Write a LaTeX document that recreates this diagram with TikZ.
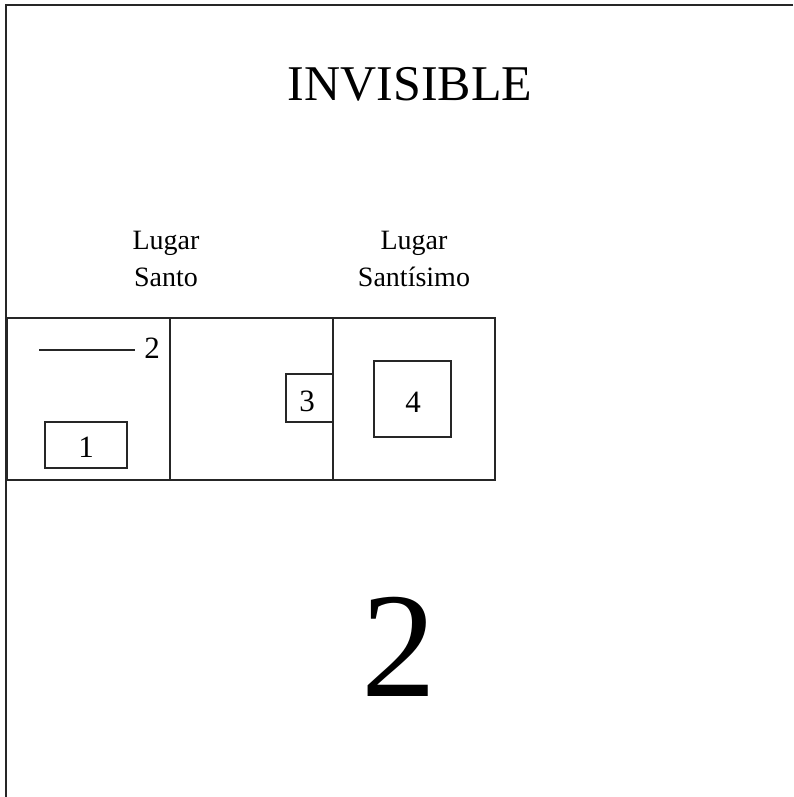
\documentclass[tikz,border=0pt]{standalone}
\usepackage{fontspec}
\setmainfont{Liberation Serif}
\begin{document}
\begin{tikzpicture}[x=1pt,y=-1pt,
  frameline/.style={line width=2.2pt, black!85},
  plan/.style={line width=1.4pt, black!85},
  numlabel/.style={inner sep=0pt, anchor=base, font=\fontsize{31}{31}\selectfont},
  roomlabel/.style={inner sep=0pt, anchor=base, align=center, font=\fontsize{28}{37}\selectfont}]
\useasboundingbox (0,0) rectangle (793,797);
% frame
\coordinate (ftl) at (6,5);
\coordinate (ftr) at (793,5);
\coordinate (fbl) at (6,797);
\draw[frameline] (ftr) -- (ftl) -- (fbl);
% title
\node[inner sep=0pt, anchor=base, font=\fontsize{50}{50}\selectfont] (title) at (410,101) {INVISIBLE};
% room labels
\node[roomlabel] (santo) at (166,286) {Lugar\\Santo};
\node[roomlabel] (santisimo) at (414,286) {Lugar\\Santísimo};
% plan
\draw[plan] (7.5,318) rectangle (495,480);
\draw[plan] (170,318) -- (170,480);
\draw[plan] (333,318) -- (333,480);
% item 2: line and label
\coordinate (l2a) at (39,350);
\coordinate (l2b) at (135,350);
\draw[plan] (l2a) -- (l2b);
\node[numlabel] (n2) at (152,358) {2};
% item 1
\draw[plan] (45,422) rectangle (127,468);
\node[numlabel] (n1) at (86,457) {1};
% item 3
\draw[plan] (333,374) -- (286,374) -- (286,422) -- (333,422);
\node[numlabel] (n3) at (307,411) {3};
% item 4
\draw[plan] (374,361) rectangle (451,437);
\node[numlabel] (n4) at (413,412) {4};
% big number
\node[inner sep=0pt, anchor=base, font=\fontsize{150}{150}\selectfont] (big) at (399,696) {2};
\end{tikzpicture}
\end{document}
